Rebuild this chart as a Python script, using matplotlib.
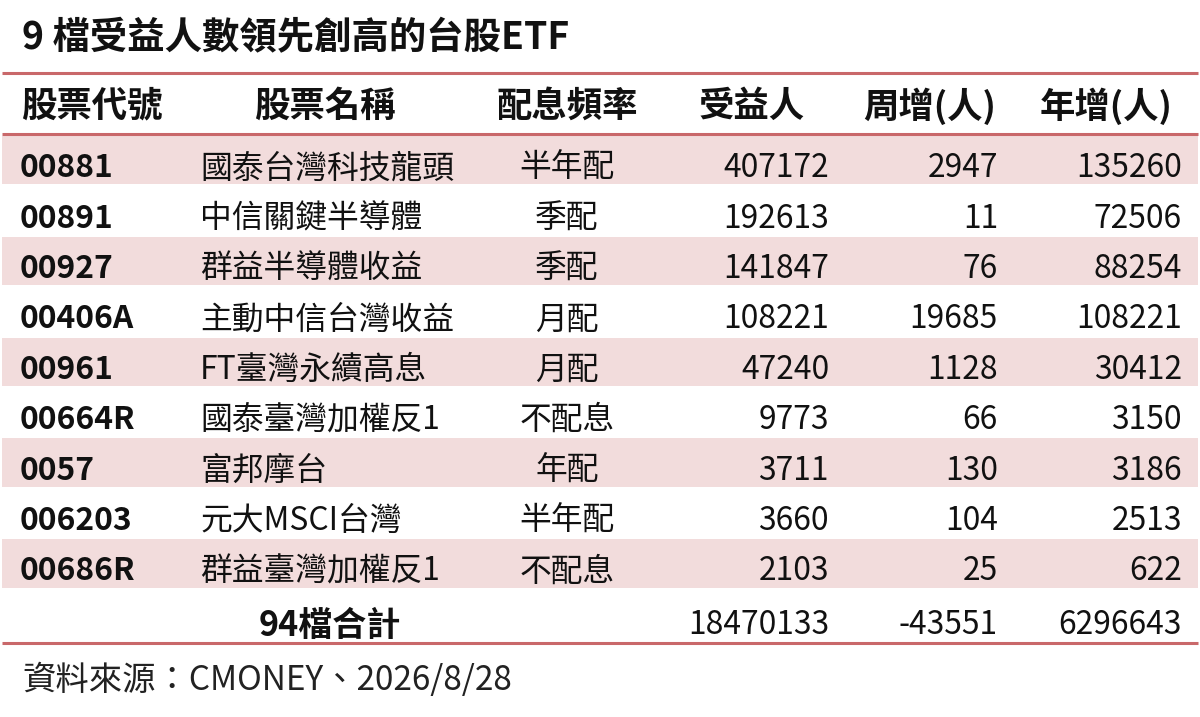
import matplotlib.pyplot as plt

plt.rcParams['font.family'] = ['Noto Sans CJK TC', 'DejaVu Sans']

# table data
title = '9 檔受益人數領先創高的台股ETF'
headers = ['股票代號', '股票名稱', '配息頻率', '受益人', '周增(人)', '年增(人)']
codes = ['00881', '00891', '00927', '00406A', '00961', '00664R', '0057', '006203', '00686R']
names = ['國泰台灣科技龍頭', '中信關鍵半導體', '群益半導體收益', '主動中信台灣收益',
         'FT臺灣永續高息', '國泰臺灣加權反1', '富邦摩台', '元大MSCI台灣', '群益臺灣加權反1']
freq = ['半年配', '季配', '季配', '月配', '月配', '不配息', '年配', '半年配', '不配息']
holders = [407172, 192613, 141847, 108221, 47240, 9773, 3711, 3660, 2103]
weekly = [2947, 11, 76, 19685, 1128, 66, 130, 104, 25]
yearly = [135260, 72506, 88254, 108221, 30412, 3150, 3186, 2513, 622]
total_label = '94檔合計'
total_vals = [18470133, -43551, 6296643]
source = '資料來源：CMONEY、2026/8/28'

line_color = '#c9686a'
shade_color = '#f2dcdc'
text_color = '#111111'
fs = 22.9

fig = plt.figure(figsize=(12, 7.17), dpi=100)
ax = fig.add_axes([0, 0, 1, 1])
ax.set_xlim(0, 1200)
ax.set_ylim(717, 0)
ax.axis('off')

# title
ax.text(22, 38, title, fontsize=26.9, fontweight='bold', color=text_color,
        ha='left', va='center')

# header
header_y = 106
header_x = [92, 325, 567, 752, 930, 1106]
for hx, h in zip(header_x, headers):
    ax.text(hx, header_y, h, fontsize=25.5, fontweight='bold', color=text_color,
            ha='center', va='center')

row_top = 136
row_h = 50.4
for i in range(len(codes)):
    y0 = row_top + i * row_h
    yc = y0 + row_h / 2 + 7
    if i % 2 == 0:
        ax.axhspan(y0, y0 + row_h - 2, xmin=2 / 1200, xmax=1198 / 1200,
                   color=shade_color, lw=0, zorder=0)
    ax.text(20, yc, codes[i], fontsize=fs, fontweight='bold', color=text_color,
            ha='left', va='center')
    ax.text(200, yc, names[i], fontsize=fs, color=text_color, ha='left', va='center')
    ax.text(567, yc, freq[i], fontsize=fs, color=text_color, ha='center', va='center')
    ax.text(829, yc, str(holders[i]), fontsize=fs, color=text_color, ha='right', va='center')
    ax.text(998, yc, str(weekly[i]), fontsize=fs, color=text_color, ha='right', va='center')
    ax.text(1182, yc, str(yearly[i]), fontsize=fs, color=text_color, ha='right', va='center')

# total row
ty = 625
ax.text(330, ty, total_label, fontsize=24.5, fontweight='bold', color=text_color,
        ha='center', va='center')
for tx, v in zip([829, 998, 1182], total_vals):
    ax.text(tx, ty, str(v), fontsize=fs, color=text_color, ha='right', va='center')

# rule lines
for ly in [73, 134, 643]:
    ax.plot([2, 1198], [ly, ly], color=line_color, lw=2.2, solid_capstyle='butt')

# source
ax.text(22, 680, source, fontsize=24, color='#222222', ha='left', va='center')

fig.savefig('out.png', dpi=100, facecolor='white')
